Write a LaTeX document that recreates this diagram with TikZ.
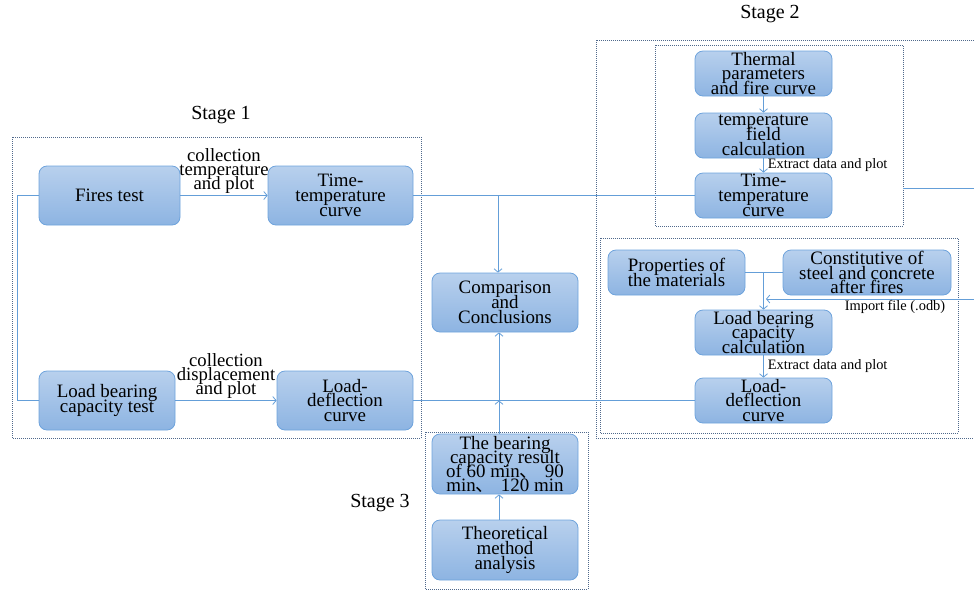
\documentclass[tikz,border=0pt]{standalone}
\usepackage{fontspec}
\setmainfont{Liberation Serif}
\newfontfamily\cjk{Noto Sans CJK SC}
\usetikzlibrary{arrows.meta}
\newcommand\tightlines{\lineskiplimit=-30pt\lineskip=0pt\relax}
\definecolor{lineblue}{RGB}{100,158,216}
\definecolor{boxtop}{RGB}{184,208,237}
\definecolor{boxbot}{RGB}{141,180,226}
\definecolor{boxdraw}{RGB}{110,163,220}
\definecolor{dotcol}{RGB}{80,105,140}
\tikzset{
  blk/.style={rectangle, rounded corners=6pt, draw=boxdraw, line width=0.6pt,
    top color=boxtop, bottom color=boxbot, align=center, inner sep=0pt,
    font={\fontsize{14.2}{11.1}\selectfont\tightlines}},
  conn/.style={draw=lineblue, line width=0.6pt},
  arr/.style={conn, -{Straight Barb[length=2.5pt,width=6pt]}},
  grp/.style={draw=dotcol, densely dotted, line width=0.5pt},
  lbl/.style={font={\fontsize{14}{10.5}\selectfont\tightlines}, align=center, inner sep=1.5pt},
  small/.style={font=\fontsize{10.8}{9}\selectfont, inner sep=1pt},
  stagelbl/.style={font=\fontsize{15}{12}\selectfont}
}
\begin{document}
\begin{tikzpicture}[x=0.75pt,y=-0.75pt]
\useasboundingbox (0,0) rectangle (974,590);
\clip (0,0) rectangle (974,590);

% group boxes
\draw[grp] (12,137) rectangle (421,438);
\draw[grp] (425,432) rectangle (588,589);
\draw[grp] (596,40) rectangle (990,438);
\draw[grp] (655,45) rectangle (903,226);
\draw[grp] (600,238) rectangle (958,433);

% stage labels
\node[stagelbl] (s1) at (221,115) {Stage 1};
\node[stagelbl] (s2) at (770,14) {Stage 2};
\node[stagelbl] (s3) at (380,503) {Stage 3};

% stage 1
\node[blk, minimum width=105.75pt, minimum height=44.25pt] (fires) at (109.5,195.5) {Fires test};
\node[blk, minimum width=108.75pt, minimum height=44.25pt] (tt1) at (340.5,195.5) {Time-\\temperature\\curve};
\node[blk, minimum width=102pt, minimum height=44.25pt] (lbt) at (107,400.5) {Load bearing\\capacity test};
\node[blk, minimum width=102pt, minimum height=44.25pt] (ld1) at (345,400.5) {Load-\\deflection\\curve};

% middle
\node[blk, minimum width=109.5pt, minimum height=44.25pt] (comp) at (505,302.5) {Comparison\\and\\Conclusions};
\node[blk, minimum width=109.5pt, minimum height=45pt, font={\fontsize{14.2}{10.5}\selectfont\tightlines}] (bear) at (505,464) {The bearing\\capacity result\\of 60 min{\cjk 、}\hspace{1pt} 90\\min{\cjk 、}\hspace{1pt} 120 min};
\node[blk, minimum width=109.5pt, minimum height=45pt] (theo) at (505,550) {Theoretical\\method\\analysis};

% stage 2
\node[blk, minimum width=102.75pt, minimum height=33.75pt] (therm) at (763.5,73.5) {Thermal\\parameters\\and fire curve};
\node[blk, minimum width=102.75pt, minimum height=33.75pt] (tfield) at (763.5,135.5) {temperature\\field\\calculation};
\node[blk, minimum width=102.75pt, minimum height=33.75pt] (tt2) at (763.5,195.5) {Time-\\temperature\\curve};
\node[blk, minimum width=102.75pt, minimum height=33.75pt] (prop) at (676.5,272.5) {Properties of\\the materials};
\node[blk, minimum width=126pt, minimum height=33.75pt] (const) at (867,272.5) {Constitutive of\\steel and concrete\\after fires};
\node[blk, minimum width=102.75pt, minimum height=33.75pt] (lbc) at (763.5,332.5) {Load bearing\\capacity\\calculation};
\node[blk, minimum width=102.75pt, minimum height=33.75pt] (ld2) at (763.5,400.5) {Load-\\deflection\\curve};

% stage 1 connectors
\draw[conn] (fires.west) -- ++(-21,0) |- (lbt.west);
\draw[arr] (fires.east) -- node[lbl, above] {collection\\temperature\\and plot} (tt1.west);
\draw[arr] (lbt.east) -- node[lbl, above] {collection\\displacement\\and plot} (ld1.west);

% horizontal through-lines
\draw[conn] (tt1.east) -- (tt2.west);
\draw[conn] (ld1.east) -- (ld2.west);

% to comparison
\coordinate (j1) at (498,195.5);
\draw[arr] (j1) -- (j1 |- comp.north);
\coordinate (j2) at (499,400.5);
\draw[arr] (bear.north -| j2) -- (j2);
\draw[arr] (j2) -- (j2 |- comp.south);
\draw[arr] (theo.north -| j2) -- (j2 |- bear.south);

% stage 2 connectors
\draw[arr] (therm.south) -- (tfield.north);
\draw[arr] (tfield.south) -- node[small, right, xshift=2pt] {Extract data and plot} (tt2.north);
\coordinate (o1) at (903,188);
\coordinate (o2) at (974,188);
\draw[conn] (o1) -- (o2);

\draw[conn] (prop.east) -- (const.west);
\coordinate (j3) at (763.5,272.5);
\draw[arr] (j3) -- (lbc.north);
\coordinate (imp) at (974,299);
\draw[arr] (imp) -- (766,299);
\node[small] (implbl) at (895,307) {Import file (.odb)};
\draw[arr] (lbc.south) -- node[small, right, xshift=2pt] {Extract data and plot} (ld2.north);
\end{tikzpicture}
\end{document}
